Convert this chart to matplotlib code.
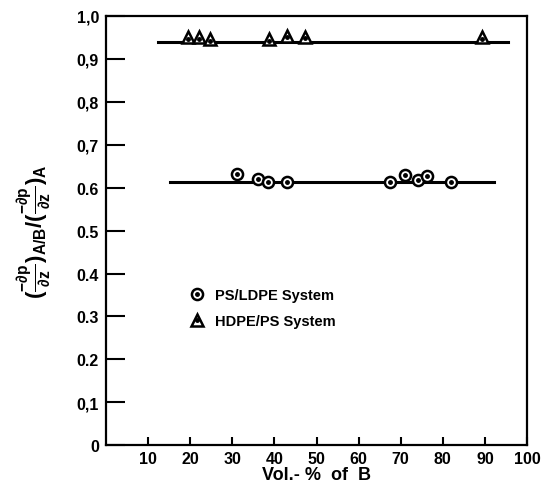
import matplotlib
matplotlib.use("Agg")
import matplotlib.pyplot as plt
from matplotlib.lines import Line2D

# PS/LDPE system (circles)
ps_ldpe_x = [31.1, 36.1, 38.5, 43.0, 67.5, 71.0, 74.1, 76.2, 81.9]
ps_ldpe_y = [0.631, 0.621, 0.614, 0.614, 0.614, 0.629, 0.619, 0.627, 0.614]
ps_ldpe_fit_x = [15.2, 92.2]
ps_ldpe_fit_y = [0.613, 0.613]

# HDPE/PS system (triangles)
hdpe_ps_x = [19.5, 22.1, 24.7, 38.7, 43.0, 47.3, 89.3]
hdpe_ps_y = [0.950, 0.950, 0.946, 0.946, 0.954, 0.952, 0.950]
hdpe_ps_fit_x = [12.4, 95.5]
hdpe_ps_fit_y = [0.940, 0.940]

x_ticks = [10, 20, 30, 40, 50, 60, 70, 80, 90, 100]
y_ticks = [0, 0.1, 0.2, 0.3, 0.4, 0.5, 0.6, 0.7, 0.8, 0.9, 1.0]
y_tick_labels = ["0", "0,1", "0.2", "0.3", "0.4", "0.5", "0.6", "0,7", "0,8", "0,9", "1,0"]

plt.rcParams["font.family"] = ["Liberation Sans", "DejaVu Sans"]
plt.rcParams["mathtext.fontset"] = "custom"
plt.rcParams["mathtext.rm"] = "Liberation Sans:bold"
plt.rcParams["mathtext.it"] = "Liberation Sans:bold"
plt.rcParams["mathtext.bf"] = "Liberation Sans:bold"

fig = plt.figure(figsize=(5.45, 4.85), dpi=100)
ax = fig.add_axes([0.1945, 0.08, 0.7725, 0.885])

ax.plot(hdpe_ps_fit_x, hdpe_ps_fit_y, color="black", lw=2.2, zorder=2)
ax.plot(ps_ldpe_fit_x, ps_ldpe_fit_y, color="black", lw=2.2, zorder=2)

circ_kw = dict(marker="o", ms=8, mfc="white", mec="black", mew=1.8, ls="none")
tri_kw = dict(marker="^", ms=9, mfc="white", mec="black", mew=1.8, ls="none")
dot_kw = dict(marker="o", ms=2.5, mfc="black", mec="black", ls="none")

ax.plot(ps_ldpe_x, ps_ldpe_y, zorder=3, **circ_kw)
ax.plot(ps_ldpe_x, ps_ldpe_y, zorder=4, **dot_kw)
ax.plot(hdpe_ps_x, hdpe_ps_y, zorder=3, **tri_kw)
ax.plot(hdpe_ps_x, [v - 0.004 for v in hdpe_ps_y], zorder=4, **dot_kw)

ax.set_xlim(0, 100)
ax.set_ylim(0, 1.0)
ax.set_xticks(x_ticks)
ax.set_xticklabels([str(v) for v in x_ticks])
ax.set_yticks(y_ticks)
ax.set_yticklabels(y_tick_labels)
ax.tick_params(direction="in", length=14, width=1.5, labelsize=11.5, pad=5)
ax.tick_params(axis="x", length=6, pad=4)
for lbl in ax.get_xticklabels() + ax.get_yticklabels():
    lbl.set_fontweight("bold")
for sp in ax.spines.values():
    sp.set_linewidth(1.6)

ax.set_xlabel("Vol.- %  of  B", fontsize=13, fontweight="bold", labelpad=0)
ax.set_ylabel(r"$(\frac{-\partial p}{\partial z})_{A/B}/(\frac{-\partial p}{\partial z})_{A}$",
              fontsize=16, labelpad=18)

handles = [
    (Line2D([], [], **circ_kw), Line2D([], [], **dot_kw)),
    (Line2D([], [], **tri_kw), Line2D([], [], **dot_kw)),
]
ax.legend(handles, ["PS/LDPE System", "HDPE/PS System"],
          loc="center left", bbox_to_anchor=(0.165, 0.32), frameon=False,
          prop={"weight": "bold", "size": 10.5}, handlelength=1.2,
          handletextpad=0.6, labelspacing=0.8)

fig.savefig("out.png", dpi=100)
